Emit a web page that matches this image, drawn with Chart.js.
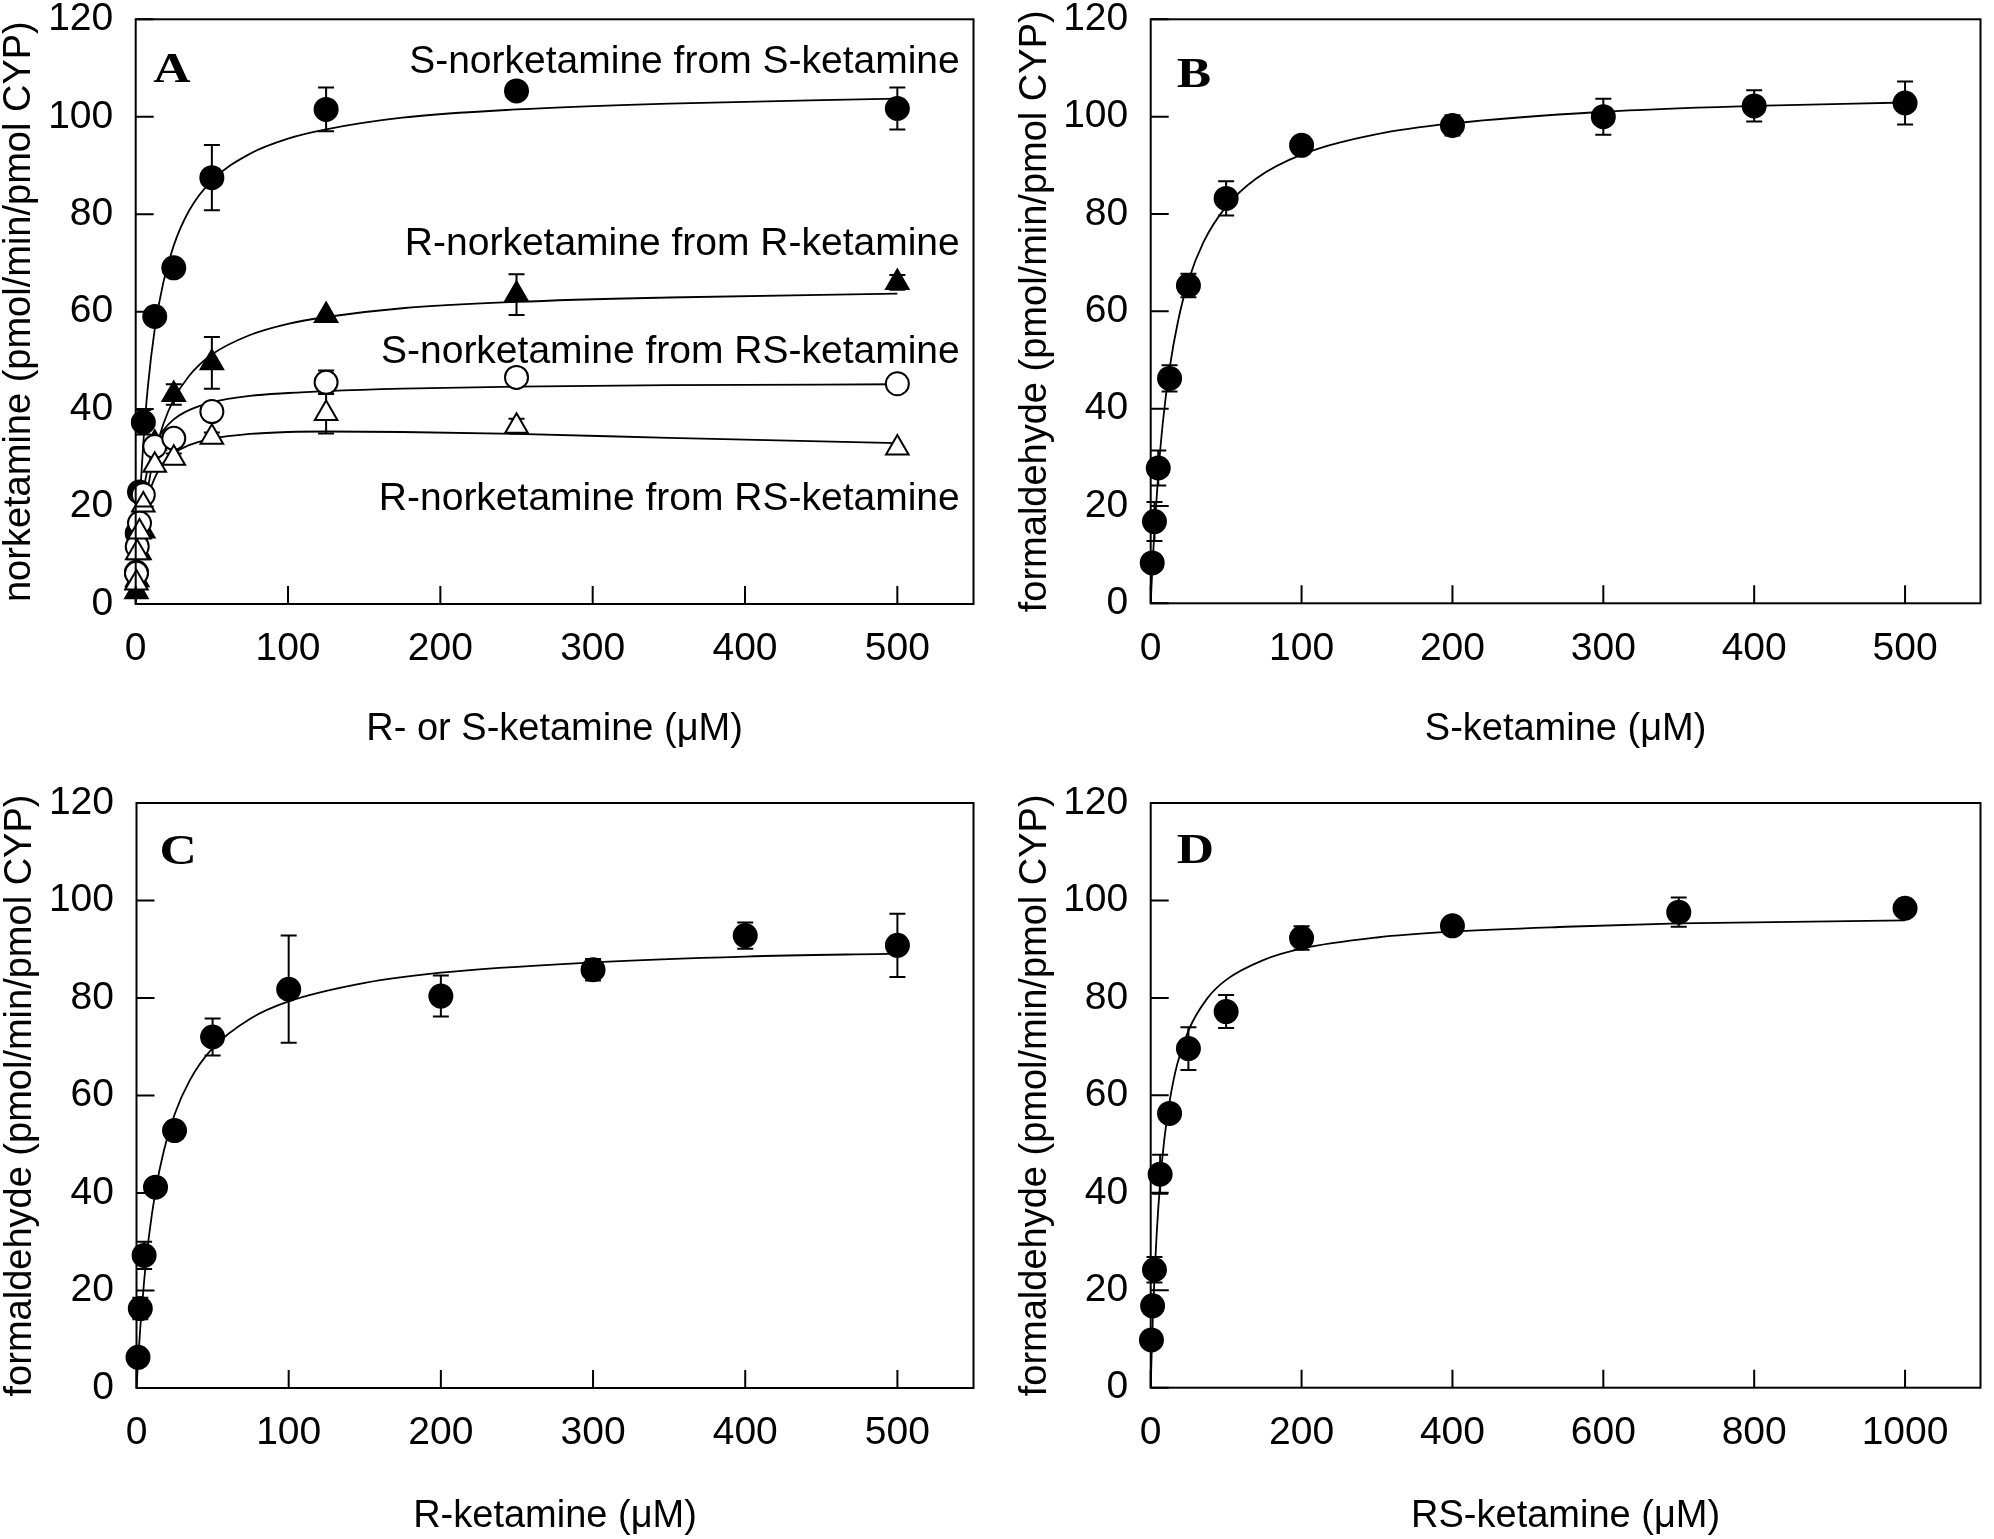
<!DOCTYPE html>
<html lang="en">
<head>
<meta charset="UTF-8">
<title>Ketamine N-demethylation kinetics</title>
<script src="https://cdn.jsdelivr.net/npm/chart.js"></script>
<style>
    html, body { margin: 0; padding: 0; background: #fff; }
    body { width: 1994px; height: 1539px; position: relative; overflow: hidden; }
    canvas { position: absolute; }
</style>
</head>
<body>
<canvas id="chartA" width="997" height="820" style="left:0px;top:-40px"></canvas>
<canvas id="chartB" width="997" height="820" style="left:997px;top:-40px"></canvas>
<canvas id="chartC" width="997" height="799" style="left:0px;top:740px"></canvas>
<canvas id="chartD" width="997" height="799" style="left:997px;top:740px"></canvas>
<script>
// ---------- tick labels ----------
const yTicks = [0, 20, 40, 60, 80, 100, 120];
const xTicks500 = [0, 100, 200, 300, 400, 500];
const xTicks1000 = [0, 200, 400, 600, 800, 1000];

// ---------- panel A: norketamine formation ----------
const concA = [0.5, 1, 2.5, 5, 12.5, 25, 50, 125, 250, 500];
const sFromS = [6.5, 14.5, 23, 37.3, 59, 69, 87.5, 101.5, 105.3, 101.7];
const sFromSErr = [0, 0, 0, 2.5, 0, 0, 6.7, 4.5, 1, 4.3];
const rFromR = [2.5, 5, 10.5, 15, 33, 43, 49.5, 59.2, 63.5, 66];
const rFromRErr = [0, 0, 0, 0, 0, 2.1, 5.3, 0, 4.2, 1.5];
const sFromRS = [6.3, 11.8, 16.6, 22.4, 32.3, 34, 39.5, 45.5, 46.5, 45.2];
const sFromRSErr = [0, 0, 0, 0, 0, 0, 1, 2.4, 0, 0];
const rFromRS = [4.3, 10.5, 14.8, 20.3, 28.5, 29.9, 34.2, 39.1, 36.5, 32];
const rFromRSErr = [0, 0, 0, 0, 0, 1, 1, 4.1, 1.5, 0];

// fitted curves
const fitAx = [0, 0.5, 1, 2.5, 5, 8, 12.5, 18, 25, 35, 50, 75, 100, 125, 175, 250, 350, 500];
const fitSFromS = [0, 4.6, 8.8, 19.6, 33, 44.6, 56.4, 65.8, 73.6, 80.7, 86.9, 92.4, 95.5, 97.4, 99.8, 101.5, 102.7, 103.7];
const fitRFromR = [0, 2.3, 4.4, 9.9, 17.2, 23.8, 30.9, 36.8, 42, 46.8, 51.2, 55.2, 57.5, 58.9, 60.7, 62, 62.9, 63.7];
const fitSFromRS = [0, 4.1, 7.6, 15.2, 22.7, 28, 32.5, 35.6, 37.9, 39.8, 41.4, 42.7, 43.3, 43.7, 44.2, 44.6, 44.9, 45.1];
const fitRFromRS = [0, 2.8, 5.5, 11.3, 17.5, 22, 25.9, 28.9, 30.9, 32.6, 33.9, 34.9, 35.3, 35.4, 35.3, 34.9, 34.1, 33.0];

// ---------- panel B: formaldehyde from S-ketamine ----------
const concB = [1, 2.5, 5, 12.5, 25, 50, 100, 200, 300, 400, 500];
const formB = [8.3, 16.8, 27.8, 46.2, 65.3, 83.2, 94.1, 98.2, 100, 102.2, 102.8];
const formBErr = [0.8, 4, 3.6, 2.7, 2.4, 3.5, 1.2, 2.1, 3.7, 3.2, 4.4];
const fitBx = [0, 1, 2.5, 5, 8, 12.5, 18, 25, 35, 50, 70, 100, 150, 200, 300, 400, 500];
const fitB = [0, 6.6, 15.1, 26.5, 37, 48.2, 57.8, 66.3, 74.2, 81.5, 87.3, 92.2, 96.4, 98.6, 101, 102.2, 102.9];

// ---------- panel C: formaldehyde from R-ketamine ----------
const concC = [1, 2.5, 5, 12.5, 25, 50, 100, 200, 300, 400, 500];
const formC = [6.3, 16.3, 27.2, 41.2, 52.8, 72, 81.8, 80.4, 85.8, 92.8, 90.8];
const formCErr = [1, 2.2, 2.8, 0.8, 0.8, 3.8, 11, 4.2, 2.2, 2.7, 6.5];
const fitCx = [0, 1, 2.5, 5, 8, 12.5, 18, 25, 35, 50, 75, 100, 150, 200, 300, 400, 500];
const fitC = [0, 5.4, 12.4, 21.9, 30.7, 40.4, 48.7, 56.1, 63.1, 69.7, 75.8, 79.3, 83.1, 85.2, 87.3, 88.5, 89.1];

// ---------- panel D: formaldehyde from RS-ketamine ----------
const concD = [1, 2.5, 5, 12.5, 25, 50, 100, 200, 400, 700, 1000];
const formD = [9.8, 16.8, 24.2, 43.8, 56.3, 69.6, 77.2, 92.3, 94.8, 97.6, 98.4];
const formDErr = [1, 1.5, 2.6, 4, 1.5, 4.4, 3.4, 2.4, 1, 3, 1];
const fitDx = [0, 1, 2.5, 5, 8, 12.5, 18, 25, 35, 50, 75, 100, 150, 200, 300, 400, 550, 700, 850, 1000];
const fitD = [0, 5.6, 12.8, 22.7, 31.8, 42, 50.9, 58.7, 66.3, 73.3, 79.9, 83.7, 87.8, 90.1, 92.4, 93.6, 94.6, 95.3, 95.6, 95.9];

// ---------- helpers ----------
const sans = "'Liberation Sans', Arial, sans-serif";
const serif = "'Liberation Serif', 'Times New Roman', serif";

function pts(xs, ys) {
    return xs.map((x, i) => ({ x: x, y: ys[i] }));
}

function marks(xs, ys, errs, style, filled) {
    return {
        data: pts(xs, ys),
        errors: errs,
        pointStyle: style,
        pointRadius: style === 'triangle' ? 13 : 11.5,
        pointBackgroundColor: filled ? '#000' : '#fff',
        pointBorderColor: '#000',
        pointBorderWidth: 2,
        showLine: false,
        clip: false
    };
}

function curve(xs, ys) {
    return {
        data: pts(xs, ys),
        showLine: true,
        pointRadius: 0,
        borderColor: '#000',
        borderWidth: 1.8,
        cubicInterpolationMode: 'monotone',
        fill: false
    };
}

// error bars, box, inward ticks, panel letter and notes
function decor(p) {
    return {
        id: 'decor',
        beforeDatasetsDraw(chart) {
            const ctx = chart.ctx, xs = chart.scales.x, ys = chart.scales.y;
            ctx.save();
            ctx.strokeStyle = '#000';
            ctx.lineWidth = 2;
            chart.data.datasets.forEach(ds => {
                if (!ds.errors) return;
                ds.data.forEach((pt, j) => {
                    const e = ds.errors[j];
                    if (!e) return;
                    const px = xs.getPixelForValue(pt.x);
                    const top = ys.getPixelForValue(pt.y + e);
                    const bot = ys.getPixelForValue(pt.y - e);
                    ctx.beginPath();
                    ctx.moveTo(px, top); ctx.lineTo(px, bot);
                    ctx.moveTo(px - 8, top); ctx.lineTo(px + 8, top);
                    ctx.moveTo(px - 8, bot); ctx.lineTo(px + 8, bot);
                    ctx.stroke();
                });
            });
            ctx.restore();
        },
        afterDraw(chart) {
            const ctx = chart.ctx, a = chart.chartArea;
            const xs = chart.scales.x, ys = chart.scales.y;
            ctx.save();
            ctx.strokeStyle = '#000';
            ctx.lineWidth = 2;
            ctx.strokeRect(a.left, a.top, a.right - a.left, a.bottom - a.top);
            ctx.beginPath();
            xs.ticks.forEach(t => {
                const px = xs.getPixelForValue(t.value);
                ctx.moveTo(px, a.bottom); ctx.lineTo(px, a.bottom - 18);
            });
            ys.ticks.forEach(t => {
                const py = ys.getPixelForValue(t.value);
                ctx.moveTo(a.left, py); ctx.lineTo(a.left + 18, py);
            });
            ctx.stroke();

            // panel letter (wide bold serif)
            ctx.fillStyle = '#000';
            ctx.save();
            ctx.translate(a.left + p.letter.dx, a.top + p.letter.dy);
            ctx.scale(1.2, 1);
            ctx.font = 'bold 43px ' + serif;
            ctx.textAlign = 'left';
            ctx.textBaseline = 'alphabetic';
            ctx.fillText(p.letter.text, 0, 0);
            ctx.restore();

            ctx.font = '39px ' + sans;
            ctx.textAlign = 'right';
            ctx.textBaseline = 'middle';
            (p.notes || []).forEach(n => {
                ctx.fillText(n.text, a.left + n.dx, a.top + n.dy);
            });
            ctx.restore();
        }
    };
}

function build(p) {
    const tickFont = { family: sans, size: 39, lineHeight: 1 };
    const titleFont = { family: sans, size: 38, lineHeight: 1 };
    new Chart(document.getElementById(p.canvas), {
        type: 'scatter',
        data: { datasets: p.datasets },
        plugins: [decor(p)],
        options: {
            responsive: false,
            animation: false,
            events: [],
            layout: { padding: { left: 0, top: p.area.t, right: p.w - p.area.r, bottom: 0 } },
            plugins: { legend: { display: false }, tooltip: { enabled: false } },
            scales: {
                x: {
                    type: 'linear', min: 0, max: p.xMax,
                    afterBuildTicks: s => { s.ticks = p.xTicks.map(v => ({ value: v })); },
                    afterFit: s => { s.height = p.h - p.area.b; },
                    grid: { display: false, drawTicks: false },
                    border: { display: false },
                    ticks: { padding: 26, font: tickFont, color: '#000', maxRotation: 0, autoSkip: false,
                             callback: v => String(v) },
                    title: { display: true, text: p.xTitle, font: titleFont, color: '#000',
                             padding: { top: 0, bottom: p.xTitlePad } }
                },
                y: {
                    type: 'linear', min: 0, max: 120,
                    afterBuildTicks: s => { s.ticks = yTicks.map(v => ({ value: v })); },
                    afterFit: s => { s.width = p.area.l; },
                    grid: { display: false, drawTicks: false },
                    border: { display: false },
                    ticks: { padding: 22.5, font: tickFont, color: '#000', autoSkip: false,
                             callback: v => String(v) },
                    title: { display: true, text: p.yTitle, font: titleFont, color: '#000',
                             padding: { top: p.yTitlePad, bottom: 0 } }
                }
            }
        }
    });
}

build({
    canvas: 'chartA', w: 997, h: 820,
    area: { l: 135.7, t: 59.3, r: 973.5, b: 644 },
    xMax: 550, xTicks: xTicks500,
    xTitle: 'R- or S-ketamine (μM)', xTitlePad: 31,
    yTitle: 'norketamine (pmol/min/pmol CYP)', yTitlePad: 1,
    letter: { text: 'A', dx: 17.5, dy: 63 },
    notes: [
        { text: 'S-norketamine from S-ketamine', dx: 824, dy: 42.7 },
        { text: 'R-norketamine from R-ketamine', dx: 824, dy: 224.5 },
        { text: 'S-norketamine from RS-ketamine', dx: 824, dy: 333 },
        { text: 'R-norketamine from RS-ketamine', dx: 824, dy: 479.5 }
    ],
    datasets: [
        marks(concA, rFromRS, rFromRSErr, 'triangle', false),
        marks(concA, sFromRS, sFromRSErr, 'circle', false),
        marks(concA, rFromR, rFromRErr, 'triangle', true),
        marks(concA, sFromS, sFromSErr, 'circle', true),
        curve(fitAx, fitSFromS),
        curve(fitAx, fitRFromR),
        curve(fitAx, fitSFromRS),
        curve(fitAx, fitRFromRS)
    ]
});

build({
    canvas: 'chartB', w: 997, h: 820,
    area: { l: 153.7, t: 59.3, r: 990.3, b: 643.3 },
    xMax: 550, xTicks: xTicks500,
    xTitle: 'S-ketamine (μM)', xTitlePad: 31.7,
    yTitle: 'formaldehyde (pmol/min/pmol CYP)', yTitlePad: 20,
    letter: { text: 'B', dx: 26, dy: 68 },
    datasets: [
        marks(concB, formB, formBErr, 'circle', true),
        curve(fitBx, fitB)
    ]
});

build({
    canvas: 'chartC', w: 997, h: 799,
    area: { l: 136.5, t: 63, r: 973.5, b: 648 },
    xMax: 550, xTicks: xTicks500,
    xTitle: 'R-ketamine (μM)', xTitlePad: 3,
    yTitle: 'formaldehyde (pmol/min/pmol CYP)', yTitlePad: 2,
    letter: { text: 'C', dx: 23, dy: 61 },
    datasets: [
        marks(concC, formC, formCErr, 'circle', true),
        curve(fitCx, fitC)
    ]
});

build({
    canvas: 'chartD', w: 997, h: 799,
    area: { l: 153.7, t: 63, r: 990.3, b: 647.7 },
    xMax: 1100, xTicks: xTicks1000,
    xTitle: 'RS-ketamine (μM)', xTitlePad: 3.3,
    yTitle: 'formaldehyde (pmol/min/pmol CYP)', yTitlePad: 20,
    letter: { text: 'D', dx: 26, dy: 60 },
    datasets: [
        marks(concD, formD, formDErr, 'circle', true),
        curve(fitDx, fitD)
    ]
});
</script>
</body>
</html>
